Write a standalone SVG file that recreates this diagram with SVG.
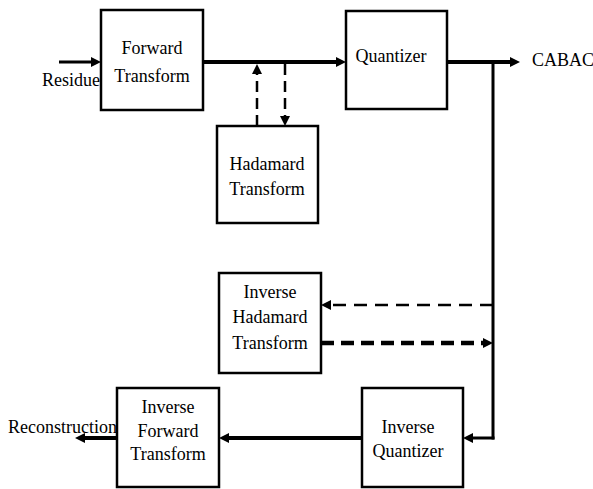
<svg xmlns="http://www.w3.org/2000/svg" width="593" height="489" viewBox="0 0 593 489">
<style>
.box{fill:#fff;stroke:#000;stroke-width:2.5}
text{font-family:'Liberation Serif','DejaVu Serif','Times New Roman',serif;font-size:18px;fill:#000}
.t{text-anchor:middle}
.c{fill:none;stroke:#000}
</style>
<defs>
<marker id="ah" viewBox="0 0 10 10" refX="4" refY="5" markerWidth="10" markerHeight="10" markerUnits="userSpaceOnUse" orient="auto">
<path d="M0,0 L10,5 L0,10 z" fill="#000"/>
</marker>
</defs>
<rect width="593" height="489" fill="#fff"/>
<g id="connectors">
<line class="c" x1="59" y1="62" x2="95" y2="62" stroke-width="3" marker-end="url(#ah)"/>
<line class="c" x1="203" y1="62" x2="340" y2="62" stroke-width="4" marker-end="url(#ah)"/>
<line class="c" x1="447" y1="62" x2="514" y2="62" stroke-width="4" marker-end="url(#ah)"/>
<line class="c" x1="493" y1="62" x2="493" y2="439.5" stroke-width="3"/>
<line class="c" x1="494.5" y1="438" x2="469" y2="438" stroke-width="3" marker-end="url(#ah)"/>
<line class="c" x1="362" y1="438" x2="225" y2="438" stroke-width="4" marker-end="url(#ah)"/>
<line class="c" x1="117" y1="438" x2="81" y2="438" stroke-width="4" marker-end="url(#ah)"/>
<line class="c" x1="257" y1="126" x2="257" y2="70" stroke-width="2.5" stroke-dasharray="11,6" marker-end="url(#ah)"/>
<line class="c" x1="285" y1="64" x2="285" y2="120" stroke-width="2.5" stroke-dasharray="11,6" marker-end="url(#ah)"/>
<line class="c" x1="493" y1="305" x2="327" y2="305" stroke-width="2.5" stroke-dasharray="13,8" marker-end="url(#ah)"/>
<line class="c" x1="321" y1="343" x2="487" y2="343" stroke-width="4.5" stroke-dasharray="13,7" marker-end="url(#ah)"/>
</g>
<g id="forward-transform">
<rect class="box" x="101" y="10" width="102" height="100"/>
<text class="t" x="152" y="54" font-family="Liberation Serif, serif">Forward</text>
<text class="t" x="152" y="82" font-family="Liberation Serif, serif">Transform</text>
</g>
<g id="quantizer">
<rect class="box" x="346" y="11" width="101" height="98"/>
<text class="t" x="391" y="62">Quantizer</text>
</g>
<g id="hadamard-transform">
<rect class="box" x="217" y="126" width="101" height="97"/>
<text class="t" x="267" y="170">Hadamard</text>
<text class="t" x="267" y="195">Transform</text>
</g>
<g id="inverse-hadamard-transform">
<rect class="box" x="219" y="273" width="102" height="100"/>
<text class="t" x="270" y="298">Inverse</text>
<text class="t" x="270" y="323">Hadamard</text>
<text class="t" x="270" y="349">Transform</text>
</g>
<g id="inverse-quantizer">
<rect class="box" x="362" y="388" width="101" height="99"/>
<text class="t" x="408" y="433">Inverse</text>
<text class="t" x="408" y="457">Quantizer</text>
</g>
<g id="inverse-forward-transform">
<rect class="box" x="117" y="388" width="102" height="99"/>
<text class="t" x="168" y="413">Inverse</text>
<text class="t" x="168" y="437">Forward</text>
<text class="t" x="168" y="460">Transform</text>
</g>
<g id="labels">
<text x="42" y="86">Residue</text>
<text x="532" y="66">CABAC</text>
<text x="8" y="433">Reconstruction</text>
</g>
</svg>
